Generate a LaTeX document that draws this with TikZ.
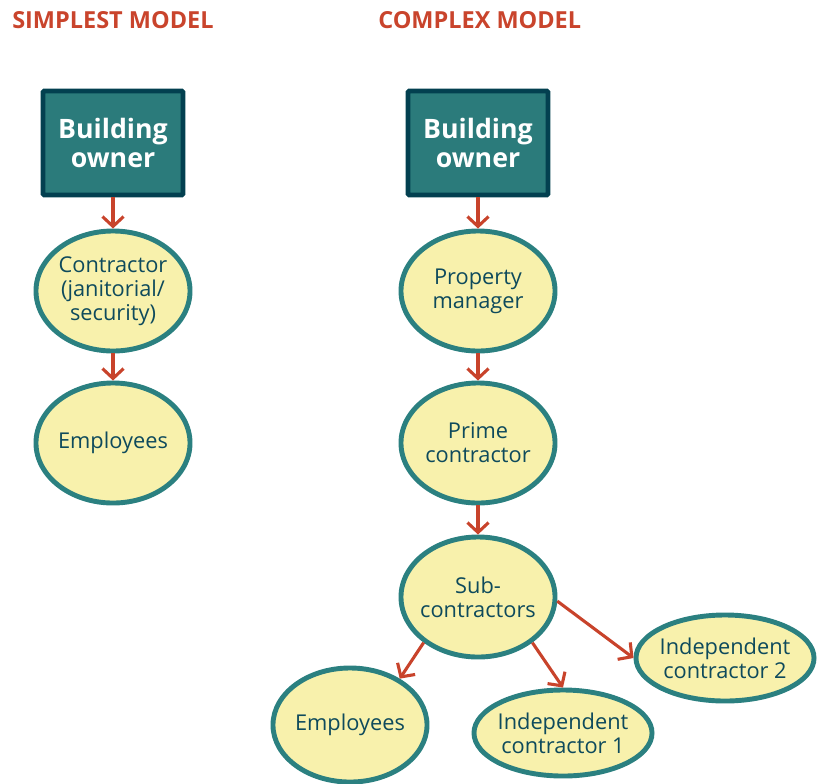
\documentclass[tikz,border=0pt]{standalone}
\usepackage{fontspec}
\setmainfont{Open Sans}
\usetikzlibrary{shapes.geometric,arrows.meta}
\definecolor{titlered}{HTML}{C9442C}
\definecolor{arrowred}{HTML}{C8432B}
\definecolor{boxfill}{HTML}{2B7B7B}
\definecolor{boxline}{HTML}{034050}
\definecolor{ovalline}{HTML}{2B8080}
\definecolor{ovalfill}{HTML}{F8F1AC}
\definecolor{ovaltext}{HTML}{0E4A5C}
\begin{document}
\begin{tikzpicture}[x=0.025cm,y=-0.025cm,
  title/.style={anchor=west,inner sep=0pt,text=titlered,font=\fontsize{16.7}{19}\selectfont\bfseries},
  owner/.style={rectangle,draw=boxline,fill=boxfill,line width=3.5pt,rounded corners=1pt,
    minimum width=3.5cm,minimum height=2.6cm,text=white,align=center,
    font=\fontsize{19}{20.5}\selectfont\bfseries},
  oval/.style={ellipse,draw=ovalline,fill=ovalfill,line width=3.5pt,inner sep=-6pt,
    minimum width=3.85cm,minimum height=3cm,text=ovaltext,align=center,
    font=\fontsize{15.5}{17}\selectfont},
  wideoval/.style={oval,minimum width=4.45cm,minimum height=2.15cm},
  link/.style={draw=arrowred,line width=2.2pt,-{Straight Barb[length=7pt,width=15pt]}}]
\useasboundingbox (0,0) rectangle (820,783);

%titles
\node[title] (simple) at (12,20) {SIMPLEST MODEL};
\node[title] (complex) at (378,20) {COMPLEX MODEL};

%simplest model
\node[owner] (ownerA) at (113,143) {Building\\owner};
\node[oval] (contr) at (113,291) {Contractor\\(janitorial/\\security)};
\node[oval] (empA) at (113,443) {Employees};

%complex model
\node[owner] (ownerB) at (478,143) {Building\\owner};
\node[oval] (prop) at (478,291) {Property\\manager};
\node[oval] (prime) at (478,443) {Prime\\contractor};
\node[oval] (sub) at (478,597) {Sub-\\contractors};
\node[oval,minimum height=2.85cm] (empB) at (350,725) {Employees};
\node[wideoval] (indA) at (563,733) {Independent\\contractor 1};
\node[wideoval] (indB) at (725,658) {Independent\\contractor 2};

%arrows
\draw[link] (ownerA) -- (contr);
\draw[link] (contr) -- (empA);
\draw[link] (ownerB) -- (prop);
\draw[link] (prop) -- (prime);
\draw[link] (prime) -- (sub);
\draw[link] (sub.220) -- (empB.43);
\draw[link] (sub.320) -- (indA.north);
\draw[link] (sub.357) -- (indB.west);

\end{tikzpicture}
\end{document}
